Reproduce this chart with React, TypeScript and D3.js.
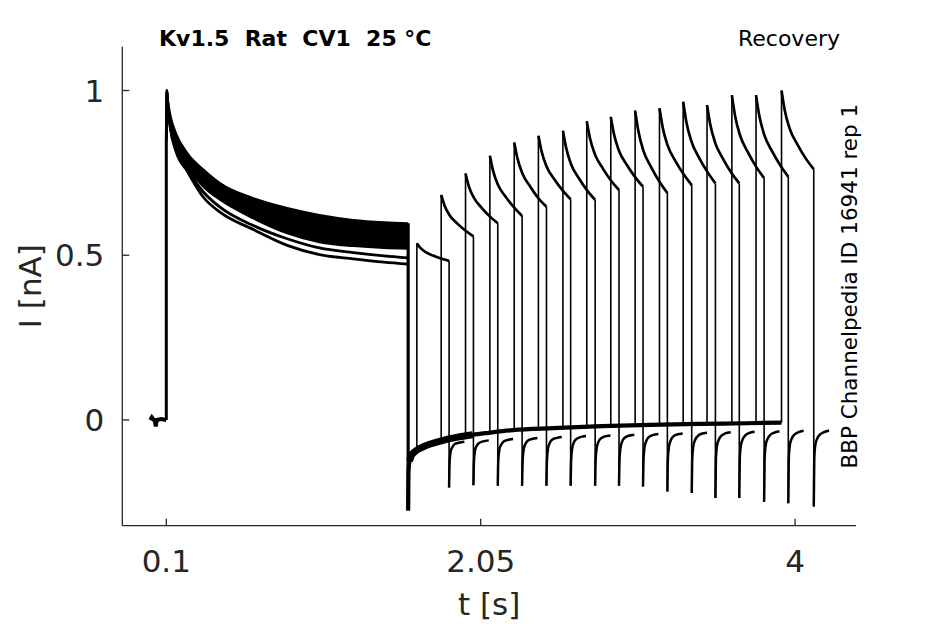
import * as d3 from "d3";

const WIDTH = 945;
const HEIGHT = 624;
const MARGIN = { top: 46.7, right: 89, bottom: 98.3, left: 122.3 };

// axes
const X_DOMAIN = [-0.173, 4.378];
const Y_DOMAIN = [-0.321, 1.133];
const X_TICKS = [0.1, 2.05, 4];
const X_TICK_LABELS = ["0.1", "2.05", "4"];
const Y_TICKS = [0, 0.5, 1];
const Y_TICK_LABELS = ["0", "0.5", "1"];

// holding baseline before the step (all sweeps overlap)
const BASE_T = [0, 0.01, 0.03, 0.035, 0.04, 0.07, 0.1];
const BASE_I = [0, 0.008, -0.005, -0.02, 0, 0.003, 0];

// conditioning pulse, 0.1 s to 1.6 s
const PRE_T = [0.1, 0.1035, 0.11, 0.125, 0.16, 0.23, 0.33, 0.435, 0.64, 0.85, 1.05, 1.26, 1.45, 1.6];
const PRE_BAND_TOP = [0.85, 1.0, 0.97, 0.925, 0.87, 0.81, 0.76, 0.718, 0.673, 0.643, 0.622, 0.607, 0.6, 0.597];
const PRE_BAND_BOTTOM = [0.85, 1.0, 0.95, 0.89, 0.83, 0.77, 0.708, 0.668, 0.612, 0.567, 0.54, 0.528, 0.522, 0.52];
const PRE_TRACE_A = [0.85, 1.0, 0.95, 0.888, 0.82, 0.762, 0.692, 0.645, 0.59, 0.55, 0.522, 0.508, 0.498, 0.492];
const PRE_TRACE_B = [0.85, 1.0, 0.95, 0.886, 0.815, 0.755, 0.676, 0.63, 0.578, 0.53, 0.502, 0.489, 0.479, 0.473];

// recovery current between conditioning and test pulse (overlapping sweeps)
const REC_T = [1.6, 1.602, 1.608, 1.62, 1.64, 1.68, 1.72, 1.8, 1.9, 2.0, 2.1, 2.25, 2.5, 2.8, 3.1, 3.4, 3.7, 3.916];
const REC_I = [-0.275, -0.16, -0.125, -0.108, -0.097, -0.085, -0.076, -0.064, -0.053, -0.045, -0.039, -0.031, -0.025, -0.019, -0.015, -0.012, -0.01, -0.008];

// test pulses
const TEST_ONSETS = [1.654, 1.805, 1.956, 2.107, 2.258, 2.408, 2.56, 2.708, 2.857, 3.008, 3.159, 3.306, 3.454, 3.608, 3.758, 3.916];
const TEST_OFFSETS = [0, 0.02, 0.05, 0.1, 0.15, 0.2];
const TEST_I = [
  [0.536, 0.523, 0.511, 0.499, 0.49, 0.483],
  [0.683, 0.652, 0.623, 0.596, 0.575, 0.557],
  [0.748, 0.71, 0.676, 0.644, 0.618, 0.597],
  [0.802, 0.756, 0.714, 0.676, 0.645, 0.619],
  [0.842, 0.794, 0.749, 0.708, 0.673, 0.647],
  [0.863, 0.815, 0.77, 0.73, 0.697, 0.67],
  [0.878, 0.826, 0.777, 0.733, 0.697, 0.668],
  [0.907, 0.855, 0.807, 0.763, 0.727, 0.698],
  [0.92, 0.867, 0.818, 0.774, 0.738, 0.708],
  [0.939, 0.877, 0.819, 0.767, 0.724, 0.689],
  [0.946, 0.888, 0.834, 0.785, 0.746, 0.713],
  [0.966, 0.904, 0.847, 0.795, 0.753, 0.718],
  [0.956, 0.897, 0.842, 0.792, 0.751, 0.718],
  [0.986, 0.923, 0.865, 0.812, 0.769, 0.734],
  [0.986, 0.924, 0.867, 0.815, 0.773, 0.738],
  [1.0, 0.94, 0.885, 0.835, 0.794, 0.761],
];

// tail current after each test pulse
const HOOK_OFFSETS = [0, 0.003, 0.01, 0.02, 0.035, 0.06, 0.095];
const HOOK_I = [
  [-0.205, -0.13, -0.095, -0.083, -0.073, -0.069, -0.066],
  [-0.198, -0.128, -0.092, -0.079, -0.07, -0.065, -0.062],
  [-0.2, -0.125, -0.09, -0.076, -0.066, -0.061, -0.058],
  [-0.2, -0.125, -0.088, -0.073, -0.063, -0.058, -0.055],
  [-0.2, -0.123, -0.086, -0.07, -0.06, -0.055, -0.052],
  [-0.2, -0.122, -0.085, -0.068, -0.058, -0.052, -0.049],
  [-0.2, -0.122, -0.084, -0.067, -0.056, -0.05, -0.047],
  [-0.2, -0.121, -0.082, -0.065, -0.054, -0.048, -0.045],
  [-0.202, -0.121, -0.081, -0.064, -0.052, -0.046, -0.043],
  [-0.217, -0.121, -0.08, -0.063, -0.051, -0.044, -0.041],
  [-0.222, -0.12, -0.079, -0.062, -0.05, -0.042, -0.039],
  [-0.237, -0.12, -0.078, -0.061, -0.049, -0.041, -0.037],
  [-0.237, -0.12, -0.077, -0.06, -0.048, -0.04, -0.036],
  [-0.248, -0.12, -0.076, -0.059, -0.047, -0.039, -0.034],
  [-0.253, -0.12, -0.075, -0.058, -0.046, -0.038, -0.033],
  [-0.263, -0.12, -0.075, -0.058, -0.046, -0.038, -0.032],
];

const TITLE = "Kv1.5  Rat  CV1  25 °C";
const PROTOCOL = "Recovery";
const SOURCE = "BBP Channelpedia ID 16941 rep 1";
const AXIS_COLOR = "#262626";
const FONT = "'DejaVu Sans', sans-serif";

type Pt = [number, number];
const zip = (ts: number[], vs: number[]): Pt[] => ts.map((t, i) => [t, vs[i]]);

export default function App() {
  const x0 = MARGIN.left;
  const x1 = WIDTH - MARGIN.right;
  const y0 = MARGIN.top;
  const y1 = HEIGHT - MARGIN.bottom;

  const xScale = d3.scaleLinear().domain(X_DOMAIN).range([x0, x1]);
  const yScale = d3.scaleLinear().domain(Y_DOMAIN).range([y1, y0]);

  const straight = d3
    .line<Pt>()
    .x((d) => xScale(d[0]))
    .y((d) => yScale(d[1]));
  const smoothLine = d3
    .line<Pt>()
    .x((d) => xScale(d[0]))
    .y((d) => yScale(d[1]))
    .curve(d3.curveMonotoneX);

  const band = d3
    .area<number>()
    .x((_, i) => xScale(PRE_T[i]))
    .y0((_, i) => yScale(PRE_BAND_BOTTOM[i]))
    .y1((_, i) => yScale(PRE_BAND_TOP[i]))
    .curve(d3.curveMonotoneX);

  const recPts = zip(REC_T, REC_I);
  // the test step starts from the recovery level reached at its onset
  const recStart = (t: number) => {
    const i = Math.max(0, d3.bisectRight(REC_T, t) - 1);
    return REC_I[i];
  };

  return (
    <svg
      width={WIDTH}
      height={HEIGHT}
      style={{ position: "fixed", left: 0, top: 0, background: "#fff" }}
    >
      {/* baseline */}
      <path d={straight(zip(BASE_T, BASE_I)) ?? ""} fill="none" stroke="#000" strokeWidth={4} />
      {/* step onset */}
      <path
        d={straight([[0.1, 0], [0.1, PRE_BAND_TOP[0]]]) ?? ""}
        fill="none"
        stroke="#000"
        strokeWidth={3}
      />
      {/* conditioning pulse */}
      <path d={band(PRE_T) ?? ""} fill="#000" />
      <path d={smoothLine(zip(PRE_T, PRE_BAND_TOP)) ?? ""} fill="none" stroke="#000" strokeWidth={2.2} />
      <path d={smoothLine(zip(PRE_T, PRE_BAND_BOTTOM)) ?? ""} fill="none" stroke="#000" strokeWidth={2.2} />
      <path d={smoothLine(zip(PRE_T, PRE_TRACE_A)) ?? ""} fill="none" stroke="#000" strokeWidth={2.8} />
      <path d={smoothLine(zip(PRE_T, PRE_TRACE_B)) ?? ""} fill="none" stroke="#000" strokeWidth={2.8} />
      {/* step back */}
      <path
        d={straight([[1.6, PRE_BAND_TOP[PRE_BAND_TOP.length - 1]], [1.6, REC_I[0]]]) ?? ""}
        fill="none"
        stroke="#000"
        strokeWidth={3.2}
      />
      {/* recovery current */}
      <path d={smoothLine(recPts) ?? ""} fill="none" stroke="#000" strokeWidth={4.2} />
      <path d={smoothLine(recPts.slice(2, 10)) ?? ""} fill="none" stroke="#000" strokeWidth={7} />

      {/* test pulses */}
      {TEST_ONSETS.map((onset, k) => {
        const vals = TEST_I[k];
        const end = onset + TEST_OFFSETS[TEST_OFFSETS.length - 1];
        const endVal = vals[vals.length - 1];
        const hook = HOOK_I[k];
        return (
          <g key={k}>
            <path
              d={straight([[onset, recStart(onset)], [onset, vals[0]]]) ?? ""}
              fill="none"
              stroke="#000"
              strokeWidth={1.6}
            />
            <path
              d={smoothLine(TEST_OFFSETS.map((o, i) => [onset + o, vals[i]] as Pt)) ?? ""}
              fill="none"
              stroke="#000"
              strokeWidth={2.7}
            />
            <path
              d={straight([[end, endVal], [end, hook[0]]]) ?? ""}
              fill="none"
              stroke="#000"
              strokeWidth={1.6}
            />
            <path
              d={smoothLine(HOOK_OFFSETS.map((o, i) => [end + o, hook[i]] as Pt)) ?? ""}
              fill="none"
              stroke="#000"
              strokeWidth={2.5}
            />
          </g>
        );
      })}

      {/* axes */}
      <g stroke={AXIS_COLOR} strokeWidth={1.3} fill="none">
        <line x1={x0} x2={x0} y1={y0} y2={y1} />
        <line x1={x0} x2={x1} y1={y1} y2={y1} />
        {Y_TICKS.map((t) => (
          <line key={`yt${t}`} x1={x0} x2={x0 + 7} y1={yScale(t)} y2={yScale(t)} />
        ))}
        {X_TICKS.map((t) => (
          <line key={`xt${t}`} x1={xScale(t)} x2={xScale(t)} y1={y1} y2={y1 - 7} />
        ))}
      </g>
      <g fill={AXIS_COLOR} fontFamily={FONT} fontSize={31}>
        {Y_TICKS.map((t, i) => (
          <text key={`yl${t}`} x={x0 - 18} y={yScale(t)} dy="0.36em" textAnchor="end">
            {Y_TICK_LABELS[i]}
          </text>
        ))}
        {X_TICKS.map((t, i) => (
          <text key={`xl${t}`} x={xScale(t)} y={572} textAnchor="middle">
            {X_TICK_LABELS[i]}
          </text>
        ))}
        <text x={(x0 + x1) / 2} y={615} textAnchor="middle">
          t [s]
        </text>
        <text
          transform={`translate(41,${(y0 + y1) / 2}) rotate(-90)`}
          textAnchor="middle"
        >
          I [nA]
        </text>
      </g>
      <text
        x={159}
        y={46}
        fontFamily={FONT}
        fontSize={22}
        fontWeight="bold"
        fill="#000"
        style={{ whiteSpace: "pre" }}
      >
        {TITLE}
      </text>
      <text x={840} y={46} fontFamily={FONT} fontSize={22} textAnchor="end" fill="#000">
        {PROTOCOL}
      </text>
      <text
        transform={`translate(857,${(y0 + y1) / 2}) rotate(-90)`}
        fontFamily={FONT}
        fontSize={21.5}
        textAnchor="middle"
        fill="#000"
      >
        {SOURCE}
      </text>
    </svg>
  );
}
